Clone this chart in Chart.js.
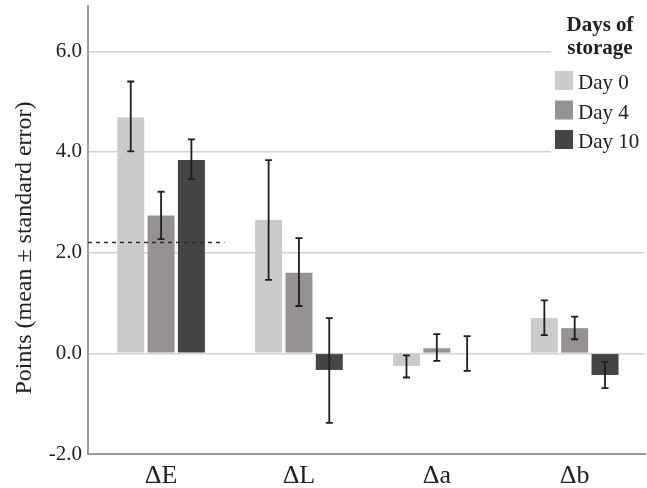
<!DOCTYPE html>
<html>
<head>
<meta charset="utf-8">
<script src="https://cdn.jsdelivr.net/npm/chart.js@4/dist/chart.umd.min.js"></script>
<style>
  html, body { margin: 0; padding: 0; background: #fff; }
  #wrap { width: 647px; height: 488px; position: relative; }
</style>
</head>
<body>
<div id="wrap"><canvas id="c" width="647" height="488"></canvas></div>
<script>
// ---- data ----
const categories = ['ΔE', 'ΔL', 'Δa', 'Δb'];
const seriesLabels = ['Day 0', 'Day 4', 'Day 10'];
const day0 = [4.69, 2.65, -0.25, 0.70];
const day4 = [2.74, 1.60, 0.10, 0.50];
const day10 = [3.84, -0.33, 0.00, -0.43];
const day0Low = [4.01, 1.46, -0.48, 0.36];
const day0High = [5.40, 3.84, -0.04, 1.05];
const day4Low = [2.27, 0.94, -0.15, 0.28];
const day4High = [3.21, 2.29, 0.38, 0.73];
const day10Low = [3.46, -1.38, -0.35, -0.69];
const day10High = [4.25, 0.70, 0.34, -0.17];
const yTicks = [-2, 0, 2, 4, 6];
const referenceValue = 2.2;
const legendTitle = ['Days of', 'storage'];
const yTitle = 'Points (mean ± standard error)';

const FONT = "'Liberation Serif', 'DejaVu Serif', serif";
const TEXT = '#222222';
const colors = ['#cbcbcb', '#959291', '#444547'];

const errLow = [day0Low, day4Low, day10Low];
const errHigh = [day0High, day4High, day10High];
const toPoints = arr => arr.map((v, i) => ({ x: i, y: v }));

const errorBars = {
  id: 'errorBars',
  afterDatasetsDraw(chart) {
    const ctx = chart.ctx, y = chart.scales.y;
    ctx.save();
    ctx.strokeStyle = '#1e1e1e';
    ctx.lineWidth = 1.8;
    chart.data.datasets.forEach((ds, i) => {
      const meta = chart.getDatasetMeta(i);
      meta.data.forEach((el, j) => {
        const x = el.x;
        const yl = y.getPixelForValue(errLow[i][j]);
        const yh = y.getPixelForValue(errHigh[i][j]);
        ctx.beginPath();
        ctx.moveTo(x, yl); ctx.lineTo(x, yh);
        ctx.moveTo(x - 3.5, yl); ctx.lineTo(x + 3.5, yl);
        ctx.moveTo(x - 3.5, yh); ctx.lineTo(x + 3.5, yh);
        ctx.stroke();
      });
    });
    ctx.restore();
  }
};

const refLine = {
  id: 'refLine',
  afterDatasetsDraw(chart, args, opts) {
    const ctx = chart.ctx, x = chart.scales.x, y = chart.scales.y;
    const yp = y.getPixelForValue(referenceValue);
    const xEnd = x.getPixelForValue(opts.endX);
    ctx.save();
    ctx.strokeStyle = '#2a2a2a';
    ctx.lineWidth = 1.5;
    ctx.setLineDash([4, 4]);
    ctx.beginPath();
    ctx.moveTo(chart.chartArea.left, yp);
    ctx.lineTo(xEnd, yp);
    ctx.stroke();
    ctx.restore();
  }
};

const sideLegend = {
  id: 'sideLegend',
  afterDraw(chart, args, o) {
    const ctx = chart.ctx;
    ctx.save();
    ctx.fillStyle = '#ffffff';
    ctx.fillRect(o.x, 0, chart.width - o.x, o.height);
    ctx.fillStyle = TEXT;
    ctx.textAlign = 'center';
    ctx.textBaseline = 'alphabetic';
    ctx.font = 'bold 21px ' + FONT;
    legendTitle.forEach((t, k) => ctx.fillText(t, o.titleX, o.titleY + k * o.titleLine));
    ctx.textAlign = 'left';
    ctx.font = '21px ' + FONT;
    chart.data.datasets.forEach((ds, i) => {
      const top = o.itemTop + i * o.itemStep;
      ctx.fillStyle = ds.backgroundColor;
      ctx.fillRect(o.boxX, top, 18, 19);
      ctx.fillStyle = TEXT;
      ctx.fillText(ds.label, o.boxX + 23, top + 18);
    });
    ctx.restore();
  }
};

const yTitlePlugin = {
  id: 'yTitlePlugin',
  afterDraw(chart, args, o) {
    const ctx = chart.ctx;
    ctx.save();
    ctx.translate(o.x, o.y);
    ctx.rotate(-Math.PI / 2);
    ctx.fillStyle = TEXT;
    ctx.font = '24px ' + FONT;
    ctx.textAlign = 'center';
    ctx.textBaseline = 'middle';
    ctx.fillText(yTitle, 0, 0);
    ctx.restore();
  }
};

new Chart(document.getElementById('c'), {
  type: 'bar',
  data: {
    datasets: [
      { label: seriesLabels[0], data: toPoints(day0), backgroundColor: colors[0] },
      { label: seriesLabels[1], data: toPoints(day4), backgroundColor: colors[1] },
      { label: seriesLabels[2], data: toPoints(day10), backgroundColor: colors[2] }
    ]
  },
  options: {
    responsive: false,
    animation: false,
    devicePixelRatio: 1,
    layout: { padding: { top: 6, right: 2, left: 0, bottom: 0 } },
    datasets: { bar: { categoryPercentage: 0.66, barPercentage: 0.89, borderWidth: 0 } },
    plugins: {
      legend: { display: false },
      tooltip: { enabled: false },
      refLine: { endX: 0.46 },
      sideLegend: { x: 551, height: 158, titleX: 600, titleY: 31, titleLine: 23, boxX: 555, itemTop: 71, itemStep: 29.5 },
      yTitlePlugin: { x: 25, y: 248 }
    },
    scales: {
      x: {
        type: 'linear',
        offset: false,
        min: -0.53,
        max: 3.51,
        afterBuildTicks(s) { s.ticks = categories.map((c, i) => ({ value: i })); },
        grid: { display: false, drawTicks: false, offset: false },
        border: { display: true, color: '#9a9a9a', width: 2 },
        ticks: { color: TEXT, font: { family: FONT, size: 26 }, padding: 7, callback: v => categories[v] },
        afterFit(s) { s.height = 34; s.paddingLeft = 0; s.paddingRight = 0; }
      },
      y: {
        min: -2,
        max: 6.9,
        afterBuildTicks(s) { s.ticks = yTicks.map(v => ({ value: v })); },
        grid: { color: '#d2d2d2', lineWidth: 1.5, drawTicks: false },
        border: { display: true, color: '#9f9f9f', width: 2 },
        ticks: {
          color: TEXT,
          font: { family: FONT, size: 21 },
          padding: 6,
          callback: v => Number(v).toFixed(1)
        },
        afterFit(s) { s.width = 88; s.paddingTop = 0; s.paddingBottom = 0; }
      }
    }
  },
  plugins: [errorBars, refLine, sideLegend, yTitlePlugin]
});
</script>
</body>
</html>
